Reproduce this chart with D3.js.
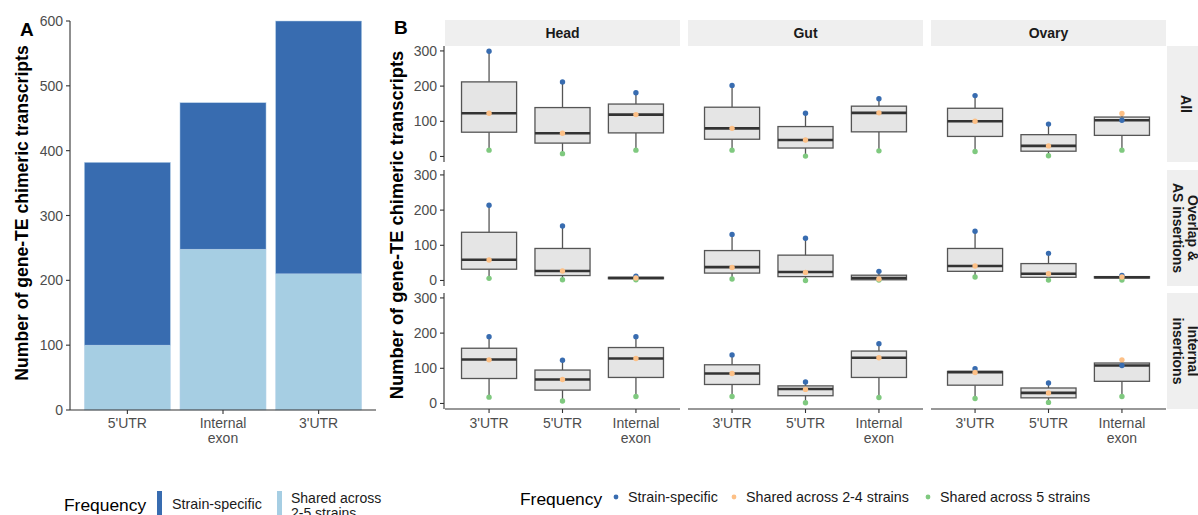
<!DOCTYPE html>
<html>
<head>
<meta charset="utf-8">
<script src="https://d3js.org/d3.v7.min.js"></script>
<style>
  body { margin: 0; background: #fff; }
  svg { display: block; font-family: "Liberation Sans", Arial, sans-serif; }
  .tick-label { fill: #4d4d4d; font-size: 14px; }
  .axis-title { font-weight: bold; fill: #000; }
  .strip-text { font-weight: bold; font-size: 14px; fill: #1a1a1a; }
</style>
</head>
<body>
<svg id="chart" width="1198" height="515"></svg>
<script>
// ---- panel A data ----
var barCats = ["5'UTR", "Internal exon", "3'UTR"];
var barShared = [100, 248, 210];
var barStrainSpecific = [282, 226, 390];
var barTicks = [0, 100, 200, 300, 400, 500, 600];

// ---- panel B data ----
var tissues = ["Head", "Gut", "Ovary"];
var insertTypes = ["All", "Overlap &\nAS insertions", "Internal\ninsertions"];
var regions = ["3'UTR", "5'UTR", "Internal exon"];
var boxTicks = [0, 100, 200, 300];

// each row: Head(3'UTR,5'UTR,Internal), Gut(...), Ovary(...)
var boxQ1 = [
  [69, 38, 67, 49, 24, 70, 57, 15, 60],
  [32, 14, 5, 21, 11, 2, 26, 9, 7],
  [71, 38, 74, 54, 22, 74, 52, 16, 63]
];
var boxMedian = [
  [123, 66, 119, 80, 47, 124, 100, 30, 103],
  [59, 27, 7, 38, 24, 7, 41, 19, 9],
  [125, 68, 128, 85, 41, 130, 89, 30, 108]
];
var boxQ3 = [
  [212, 139, 149, 140, 85, 143, 137, 62, 112],
  [137, 91, 9, 85, 72, 15, 91, 48, 11],
  [157, 95, 159, 110, 50, 149, 91, 44, 115]
];
var strainSpecific = [
  [299, 212, 181, 202, 123, 164, 173, 92, 103],
  [214, 155, 12, 131, 120, 26, 140, 77, 14],
  [190, 123, 190, 138, 61, 170, 99, 58, 108]
];
var shared24 = [
  [123, 66, 119, 80, 47, 124, 100, 30, 122],
  [58, 27, 7, 37, 23, 4, 41, 19, 10],
  [124, 68, 128, 85, 40, 130, 88, 30, 124]
];
var shared5 = [
  [18, 8, 18, 18, 1, 16, 14, 2, 18],
  [6, 2, 2, 4, 0, 1, 10, 1, 1],
  [18, 7, 20, 20, 2, 17, 14, 3, 20]
];

var dark = "#386cb0", light = "#a6cee3";
var colBlue = "#386cb0", colOrange = "#fdc086", colGreen = "#7fc97f";
var axisCol = "#333333";

var svg = d3.select("#chart");

// =================== Panel A ===================
var xA = d3.scalePoint().domain(barCats).range([70, 376]).padding(0.6);
var yA = d3.scaleLinear().domain([0, 600]).range([410, 21]);
var bwA = xA.step() * 0.9;

var stackData = barCats.map(function (c, i) {
  return { cat: c, shared: barShared[i], specific: barStrainSpecific[i] };
});
var stack = d3.stack().keys(["shared", "specific"])(stackData);
var gA = svg.append("g");
gA.selectAll("g.layer")
  .data(stack)
  .enter().append("g")
  .attr("fill", function (d) { return d.key === "shared" ? light : dark; })
  .selectAll("rect")
  .data(function (d) { return d; })
  .enter().append("rect")
  .attr("x", function (d) { return xA(d.data.cat) - bwA / 2; })
  .attr("width", bwA)
  .attr("y", function (d) { return yA(d[1]); })
  .attr("height", function (d) { return yA(d[0]) - yA(d[1]); })
  .attr("stroke", "#b9d3ea")
  .attr("stroke-width", 0.5);

// axes A
gA.append("line").attr("x1", 70).attr("x2", 70).attr("y1", yA(600)).attr("y2", yA(0))
  .attr("stroke", axisCol).attr("stroke-width", 1.1);
gA.append("line").attr("x1", 70).attr("x2", 376).attr("y1", yA(0)).attr("y2", yA(0))
  .attr("stroke", axisCol).attr("stroke-width", 1.1);
barTicks.forEach(function (t) {
  gA.append("line").attr("x1", 66).attr("x2", 70).attr("y1", yA(t)).attr("y2", yA(t))
    .attr("stroke", axisCol).attr("stroke-width", 1.1);
  gA.append("text").attr("class", "tick-label").attr("x", 63).attr("y", yA(t) + 5)
    .attr("text-anchor", "end").text(t);
});
barCats.forEach(function (c) {
  var x = xA(c);
  gA.append("line").attr("x1", x).attr("x2", x).attr("y1", 410).attr("y2", 414)
    .attr("stroke", axisCol).attr("stroke-width", 1.1);
  var lines = c === "Internal exon" ? ["Internal", "exon"] : [c];
  lines.forEach(function (l, j) {
    gA.append("text").attr("class", "tick-label").attr("x", x).attr("y", 428 + j * 15)
      .attr("text-anchor", "middle").text(l);
  });
});
gA.append("text").attr("class", "axis-title")
  .attr("transform", "translate(28,213) rotate(-90)")
  .attr("text-anchor", "middle").style("font-size", "17.6px")
  .text("Number of gene-TE chimeric transcripts");
svg.append("text").attr("x", 20).attr("y", 36).style("font-weight", "bold")
  .style("font-size", "19px").text("A");

// legend A
var legA = svg.append("g");
legA.append("text").attr("x", 64).attr("y", 511).style("font-size", "17.4px").text("Frequency");
legA.append("rect").attr("x", 157).attr("y", 491).attr("width", 5).attr("height", 30).attr("fill", dark);
legA.append("text").attr("x", 172).attr("y", 509).style("font-size", "14.3px").attr("fill", "#1a1a1a").text("Strain-specific");
legA.append("rect").attr("x", 277).attr("y", 491).attr("width", 5).attr("height", 30).attr("fill", light);
legA.append("text").attr("x", 291).attr("y", 502.5).style("font-size", "14px").attr("fill", "#1a1a1a").text("Shared across");
legA.append("text").attr("x", 291).attr("y", 517.5).style("font-size", "14px").attr("fill", "#1a1a1a").text("2-5 strains");

// =================== Panel B ===================
var panelW = 235, panelH = 116;
var colLeft = [445, 688, 931];
var rowTop = [46, 170, 293];
var xB = d3.scalePoint().domain(regions).range([0, panelW]).padding(0.6);
var yB = d3.scaleLinear().domain([-15.7, 314]).range([panelH, 0]);
var boxW = xB.step() * 0.75;

var gB = svg.append("g");

// top strips
tissues.forEach(function (t, c) {
  gB.append("rect").attr("x", colLeft[c]).attr("y", 20).attr("width", panelW).attr("height", 26)
    .attr("fill", "#efefef");
  gB.append("text").attr("class", "strip-text").attr("x", colLeft[c] + panelW / 2).attr("y", 38)
    .attr("text-anchor", "middle").text(t);
});
// right strips
insertTypes.forEach(function (lab, r) {
  gB.append("rect").attr("x", 1167).attr("y", rowTop[r]).attr("width", 40).attr("height", panelH)
    .attr("fill", "#efefef");
  var lines = lab.split("\n");
  var cy = rowTop[r] + panelH / 2;
  var txt = gB.append("text").attr("class", "strip-text")
    .attr("transform", "translate(" + (1186 + (lines.length - 1) * 6.5) + "," + cy + ") rotate(90)")
    .attr("text-anchor", "middle");
  lines.forEach(function (l, j) {
    txt.append("tspan").attr("x", 0).attr("y", 5 + j * 14.5).text(l);
  });
});

insertTypes.forEach(function (lab, r) {
  tissues.forEach(function (t, c) {
    var g = gB.append("g").attr("transform", "translate(" + colLeft[c] + "," + rowTop[r] + ")");
    regions.forEach(function (reg, k) {
      var i = c * 3 + k;
      var cx = xB(reg);
      var q1 = boxQ1[r][i], md = boxMedian[r][i], q3 = boxQ3[r][i];
      var pts = [strainSpecific[r][i], shared24[r][i], shared5[r][i]];
      var hi = Math.max(q3, d3.max(pts)), lo = Math.min(q1, d3.min(pts));
      g.append("line").attr("x1", cx).attr("x2", cx).attr("y1", yB(q3)).attr("y2", yB(hi))
        .attr("stroke", "#555").attr("stroke-width", 1.3);
      g.append("line").attr("x1", cx).attr("x2", cx).attr("y1", yB(q1)).attr("y2", yB(lo))
        .attr("stroke", "#555").attr("stroke-width", 1.3);
      g.append("rect").attr("x", cx - boxW / 2).attr("width", boxW)
        .attr("y", yB(q3)).attr("height", Math.max(yB(q1) - yB(q3), 0.5))
        .attr("fill", "#e5e5e5").attr("stroke", "#555").attr("stroke-width", 1.3);
      g.append("line").attr("x1", cx - boxW / 2).attr("x2", cx + boxW / 2)
        .attr("y1", yB(md)).attr("y2", yB(md))
        .attr("stroke", "#333").attr("stroke-width", 2.6);
      [[shared5[r][i], colGreen], [strainSpecific[r][i], colBlue], [shared24[r][i], colOrange]]
        .forEach(function (p) {
          g.append("circle").attr("cx", cx).attr("cy", yB(p[0])).attr("r", 2.7).attr("fill", p[1]);
        });
    });
  });
  // y axis for the row
  var gy = gB.append("g").attr("transform", "translate(" + 444 + "," + rowTop[r] + ")");
  gy.append("line").attr("x1", 0).attr("x2", 0).attr("y1", 0).attr("y2", panelH)
    .attr("stroke", axisCol).attr("stroke-width", 1.1);
  boxTicks.forEach(function (tk) {
    gy.append("line").attr("x1", -4).attr("x2", 0).attr("y1", yB(tk)).attr("y2", yB(tk))
      .attr("stroke", axisCol).attr("stroke-width", 1.1);
    gy.append("text").attr("class", "tick-label").attr("x", -7).attr("y", yB(tk) + 5)
      .attr("text-anchor", "end").text(tk);
  });
});

// x axes per column
tissues.forEach(function (t, c) {
  var base = rowTop[2] + panelH;
  var gx = gB.append("g").attr("transform", "translate(" + colLeft[c] + "," + base + ")");
  gx.append("line").attr("x1", 0).attr("x2", panelW).attr("y1", 0).attr("y2", 0)
    .attr("stroke", axisCol).attr("stroke-width", 1.1);
  regions.forEach(function (reg) {
    var x = xB(reg);
    gx.append("line").attr("x1", x).attr("x2", x).attr("y1", 0).attr("y2", 4)
      .attr("stroke", axisCol).attr("stroke-width", 1.1);
    var lines = reg === "Internal exon" ? ["Internal", "exon"] : [reg];
    lines.forEach(function (l, j) {
      gx.append("text").attr("class", "tick-label").attr("x", x).attr("y", 19 + j * 15)
        .attr("text-anchor", "middle").text(l);
    });
  });
});

gB.append("text").attr("class", "axis-title")
  .attr("transform", "translate(403,225) rotate(-90)")
  .attr("text-anchor", "middle").style("font-size", "18.3px")
  .text("Number of gene-TE chimeric transcripts");
svg.append("text").attr("x", 394).attr("y", 34).style("font-weight", "bold")
  .style("font-size", "19px").text("B");

// legend B
var legB = svg.append("g");
legB.append("text").attr("x", 520).attr("y", 505).style("font-size", "17.4px").text("Frequency");
var legItems = [
  { label: "Strain-specific", col: colBlue, x: 616 },
  { label: "Shared across 2-4 strains", col: colOrange, x: 734 },
  { label: "Shared across 5 strains", col: colGreen, x: 928 }
];
legItems.forEach(function (d) {
  legB.append("circle").attr("cx", d.x).attr("cy", 497).attr("r", 2.4).attr("fill", d.col);
  legB.append("text").attr("x", d.x + 12).attr("y", 502).style("font-size", "14.3px")
    .attr("fill", "#1a1a1a").text(d.label);
});
</script>
</body>
</html>
